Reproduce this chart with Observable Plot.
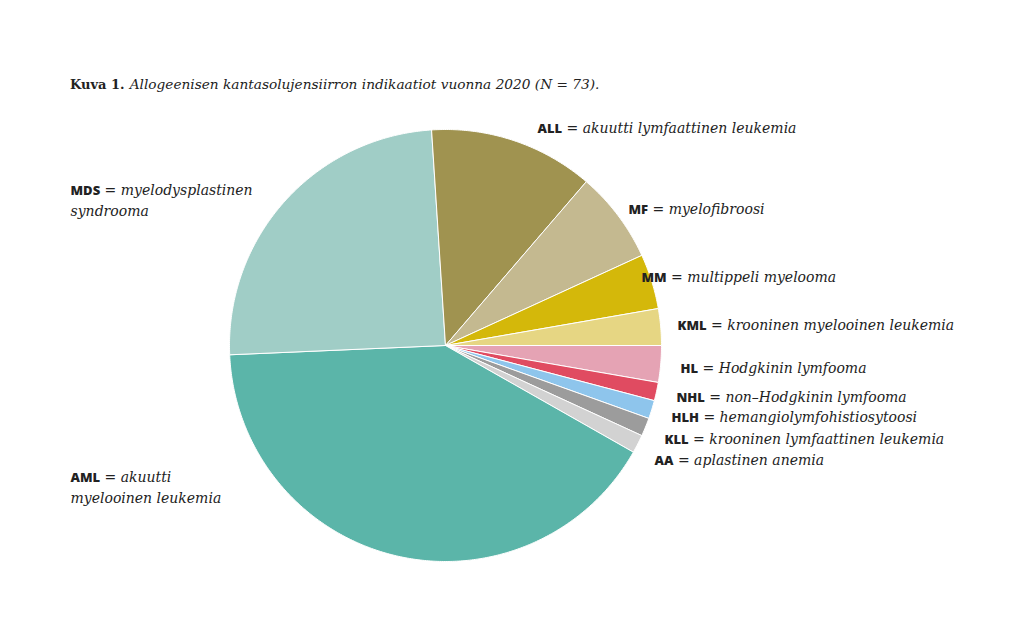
<!DOCTYPE html>
<html><head><meta charset="utf-8">
<script src="https://cdn.jsdelivr.net/npm/d3@7"></script>
<script src="https://cdn.jsdelivr.net/npm/@observablehq/plot@0.6"></script>
<style>
body{margin:0;background:#fff;}
#title{height:100px;position:relative;}
#title div{position:absolute;left:70px;top:74px;font-family:"DejaVu Serif";color:#222;white-space:nowrap;}
#title b{font-weight:bold;font-size:13px;}
#title i{font-size:13.7px;}
</style></head><body>
<div id="title"><div><b>Kuva 1.</b> <i>Allogeenisen kantasolujensiirron indikaatiot vuonna 2020 (N = 73).</i></div></div>
<div id="chart"></div>
<script>
// Categories, clockwise from 3 o'clock
const categories = ["HL","NHL","HLH","KLL","AA","AML","MDS","ALL","MF","MM","KML"];
const counts = [2,1,1,1,1,30,18,9,5,3,2];
const descriptions = [
  "Hodgkinin lymfooma",
  "non\u2013Hodgkinin lymfooma",
  "hemangiolymfohistiosytoosi",
  "krooninen lymfaattinen leukemia",
  "aplastinen anemia",
  "akuutti\nmyelooinen leukemia",
  "myelodysplastinen\nsyndrooma",
  "akuutti lymfaattinen leukemia",
  "myelofibroosi",
  "multippeli myelooma",
  "krooninen myelooinen leukemia"
];
const colors = ["#e5a3b4","#e04b61","#8ec5ec","#9c9c9c","#d2d2d2","#5bb5a9","#a0cdc6","#a09350","#c4b990","#d4b80a","#e6d683"];
// label anchor positions in units of the pie radius
const labelX = [1.088,1.069,1.046,1.014,0.968,-1.736,-1.736,0.426,0.847,0.907,1.074];
const labelY = [-0.102,-0.236,-0.329,-0.431,-0.528,-0.657,0.674,1.009,0.634,0.319,0.097];

const arcs = d3.pie().sort(null).startAngle(Math.PI/2).endAngle(Math.PI/2 + 2*Math.PI)(counts);
const slicePoints = [];
arcs.forEach((p, i) => {
  const cat = categories[i];
  slicePoints.push({cat, x: 0, y: 0});
  const n = Math.max(2, Math.ceil((p.endAngle - p.startAngle) / (Math.PI / 360)));
  for (let k = 0; k <= n; k++) {
    const a = p.startAngle + (p.endAngle - p.startAngle) * k / n;
    slicePoints.push({cat, x: Math.sin(a), y: Math.cos(a)});
  }
  slicePoints.push({cat, x: 0, y: 0});
});
const labels = categories.map((c, i) => ({cat: c, x: labelX[i], y: labelY[i], text: c + " = " + descriptions[i]}));

const chart = Plot.plot({
  width: 1024, height: 538,
  marginLeft: 229, marginRight: 363, marginTop: 29, marginBottom: 77,
  x: {domain: [-1, 1], axis: null},
  y: {domain: [-1, 1], axis: null},
  color: {domain: categories, range: colors},
  marks: [
    Plot.line(slicePoints, {x: "x", y: "y", z: "cat", fill: "cat", stroke: "white", strokeWidth: 1, strokeLinejoin: "miter"}),
    Plot.text(labels, {x: "x", y: "y", text: "text", textAnchor: "start", lineAnchor: "middle", fill: "#222"})
  ]
});
document.getElementById("chart").appendChild(chart);

// style labels: bold sans abbreviation + italic serif description
const NS = "http://www.w3.org/2000/svg";
const textEls = chart.querySelectorAll('g[aria-label="text"] text');
const serif = "font-family:'DejaVu Serif';font-style:italic;font-size:14px";
textEls.forEach((el, i) => {
  const lines = descriptions[i].split("\n");
  while (el.firstChild) el.removeChild(el.firstChild);
  const gap = 21;
  el.setAttribute("y", lines.length > 1 ? (-gap / 2 + 5.5) : 5.5);
  const ab = document.createElementNS(NS, "tspan");
  ab.setAttribute("x", 0);
  ab.setAttribute("style", "font-family:'Open Sans';font-weight:800;font-size:13px;font-style:normal");
  ab.textContent = categories[i];
  el.appendChild(ab);
  const rest = document.createElementNS(NS, "tspan");
  rest.setAttribute("style", serif);
  rest.textContent = " = " + lines[0];
  el.appendChild(rest);
  for (let k = 1; k < lines.length; k++) {
    const t = document.createElementNS(NS, "tspan");
    t.setAttribute("x", 0);
    t.setAttribute("dy", gap);
    t.setAttribute("style", serif);
    t.textContent = lines[k];
    el.appendChild(t);
  }
});
</script>
</body></html>
